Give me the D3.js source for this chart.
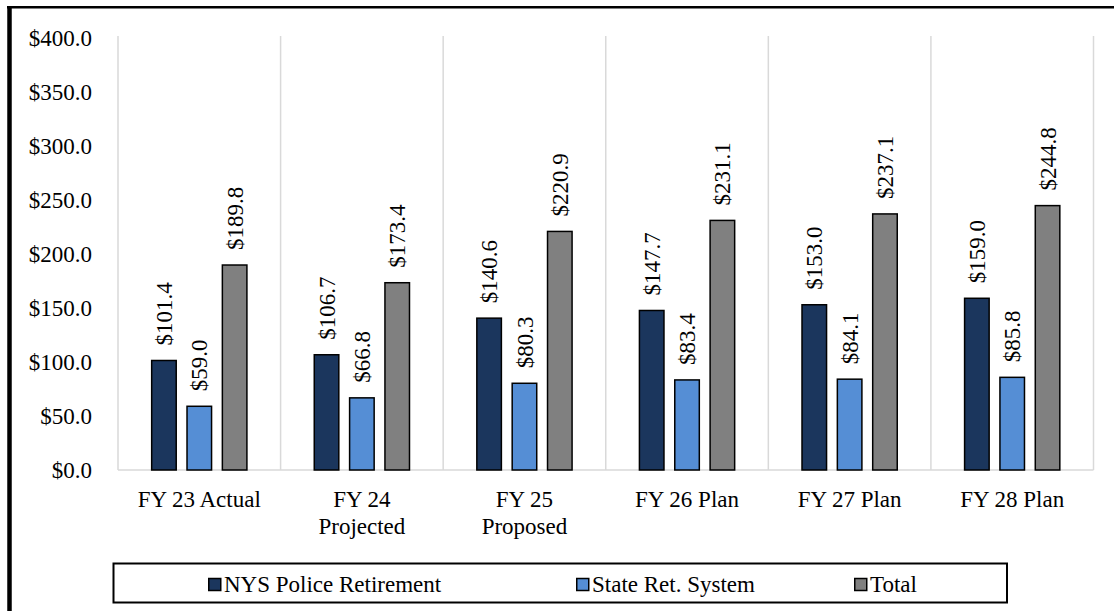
<!DOCTYPE html>
<html>
<head>
<meta charset="utf-8">
<script src="https://cdn.jsdelivr.net/npm/d3@7"></script>
<style>
  html, body { margin: 0; padding: 0; background: #ffffff; }
  svg { display: block; }
</style>
</head>
<body>
<svg id="chart" width="1114" height="611"></svg>
<script>
// Pension contributions by fiscal year ($ millions)
const categories = [
  ["FY 23 Actual"],
  ["FY 24", "Projected"],
  ["FY 25", "Proposed"],
  ["FY 26 Plan"],
  ["FY 27 Plan"],
  ["FY 28 Plan"]
];
const seriesNames = ["NYS Police Retirement", "State Ret. System", "Total"];
const policeValues = [101.4, 106.7, 140.6, 147.7, 153.0, 159.0];
const stateRetValues = [59.0, 66.8, 80.3, 83.4, 84.1, 85.8];
const totalValues = [189.8, 173.4, 220.9, 231.1, 237.1, 244.8];
const yTicks = [0, 50, 100, 150, 200, 250, 300, 350, 400];
const seriesColors = ["#1b365d", "#558ed5", "#808080"];

const seriesValues = [policeValues, stateRetValues, totalValues];
const catKeys = categories.map(c => c.join(" "));
const FONT = "Liberation Serif";

const svg = d3.select("#chart");
const W = 1114, H = 611;
const plot = { left: 118, right: 1093.5, top: 38, bottom: 470 };

function serif(sel, size) {
  return sel.attr("font-family", FONT).style("font-family", FONT)
    .attr("font-size", size).style("font-size", size + "px").attr("fill", "#000");
}

// Outer frame (left and top edges visible)
svg.append("line").attr("x1", 9.5).attr("x2", 9.5).attr("y1", 6).attr("y2", H)
  .attr("stroke", "#000").attr("stroke-width", 4.5);
svg.append("line").attr("x1", 7).attr("x2", W).attr("y1", 7.2).attr("y2", 7.2)
  .attr("stroke", "#000").attr("stroke-width", 2.6);

const x0 = d3.scaleBand().domain(catKeys).range([plot.left, plot.right])
  .paddingInner(0.405).paddingOuter(0.2025);
const x1 = d3.scaleBand().domain(seriesNames).range([0, x0.bandwidth()])
  .paddingInner(0.263).paddingOuter(0);
const y = d3.scaleLinear().domain([0, 400]).range([plot.bottom, plot.top]);

// Vertical category separators
const step = x0.step();
const seps = d3.range(categories.length + 1).map(i => plot.left + i * step);
svg.append("g").selectAll("line").data(seps).join("line")
  .attr("x1", d => d).attr("x2", d => d)
  .attr("y1", y(400) - 2).attr("y2", plot.bottom)
  .attr("stroke", "#d9d9d9").attr("stroke-width", 1.5);

// Baseline
svg.append("line").attr("x1", plot.left).attr("x2", plot.right)
  .attr("y1", plot.bottom).attr("y2", plot.bottom)
  .attr("stroke", "#d9d9d9").attr("stroke-width", 1.5);

// Y axis labels
const yAxis = d3.axisLeft(y).tickValues(yTicks).tickSize(0).tickPadding(26)
  .tickFormat(d => "$" + d.toFixed(1));
const ya = svg.append("g").attr("transform", `translate(${plot.left},0)`).call(yAxis);
ya.attr("font-family", FONT).attr("font-size", 23);
ya.select(".domain").remove();
serif(ya.selectAll("text"), 23);

// Bars with rotated value labels
const groups = svg.append("g").selectAll("g").data(catKeys).join("g")
  .attr("transform", d => `translate(${x0(d)},0)`);

groups.each(function(cat, ci) {
  const g = d3.select(this);
  seriesNames.forEach((s, si) => {
    const v = seriesValues[si][ci];
    g.append("rect")
      .attr("x", x1(s) + 0.75)
      .attr("width", x1.bandwidth() - 1.5)
      .attr("y", y(v))
      .attr("height", y(0) - y(v))
      .attr("fill", seriesColors[si])
      .attr("stroke", "#000").attr("stroke-width", 1.5);
    const cx = x1(s) + x1.bandwidth() / 2;
    serif(g.append("text"), 23)
      .attr("transform", `translate(${cx},${y(v) - 15}) rotate(-90)`)
      .attr("text-anchor", "start")
      .attr("dy", "0.35em")
      .text("$" + v.toFixed(1));
  });
});

// Category labels
const xl = serif(svg.append("g").selectAll("text").data(categories).join("text"), 23)
  .attr("x", (d, i) => x0(catKeys[i]) + x0.bandwidth() / 2)
  .attr("y", 506.5)
  .attr("text-anchor", "middle");
xl.selectAll("tspan").data(d => d).join("tspan")
  .attr("x", function() { return d3.select(this.parentNode).attr("x"); })
  .attr("dy", (d, i) => i === 0 ? 0 : 27.5)
  .text(d => d);

// Legend
const legend = svg.append("g");
legend.append("rect").attr("x", 113.5).attr("y", 563.5).attr("width", 893.5).attr("height", 39)
  .attr("fill", "#fff").attr("stroke", "#000").attr("stroke-width", 2);
const legendX = [208, 576, 854];
seriesNames.forEach((s, i) => {
  legend.append("rect").attr("x", legendX[i] + 0.75).attr("y", 578.5)
    .attr("width", 12).attr("height", 12)
    .attr("fill", seriesColors[i]).attr("stroke", "#000").attr("stroke-width", 1.5);
  serif(legend.append("text"), 23)
    .attr("x", legendX[i] + 16).attr("y", 591.5)
    .text(s);
});
</script>
</body>
</html>
